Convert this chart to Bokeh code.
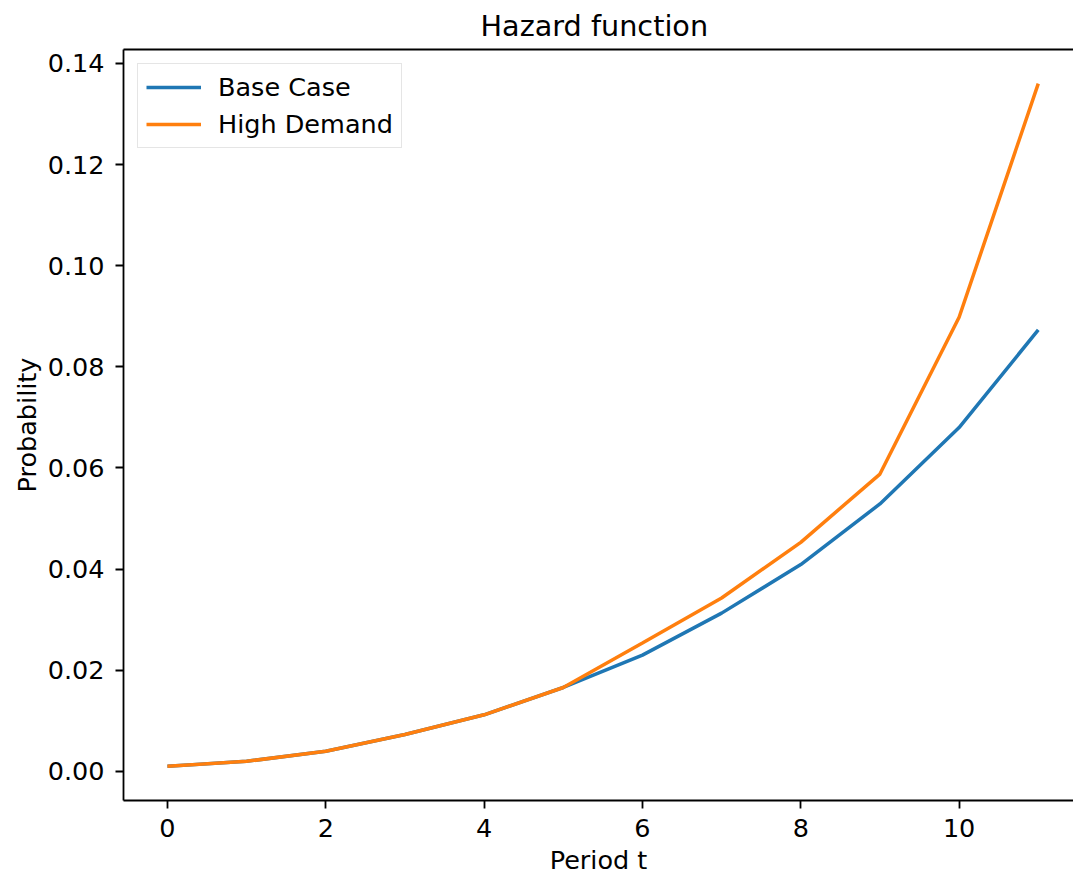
from bokeh.plotting import figure
from bokeh.models import Range1d, FixedTicker, PrintfTickFormatter, LinearAxis, Legend, LegendItem
from bokeh.embed import file_html
from bokeh.resources import INLINE

# Data
periods = [0, 1, 2, 3, 4, 5, 6, 7, 8, 9, 10, 11]
base_case = [0.001, 0.002, 0.004, 0.0073, 0.0112, 0.0166, 0.0230, 0.0313, 0.0409, 0.0529, 0.0680, 0.0873]
high_demand = [0.001, 0.002, 0.004, 0.0073, 0.0112, 0.0166, 0.0254, 0.0343, 0.0453, 0.0588, 0.0898, 0.1360]
x_ticks = [0, 2, 4, 6, 8, 10]
y_ticks = [0.00, 0.02, 0.04, 0.06, 0.08, 0.10, 0.12, 0.14]

FONT = "DejaVu Sans"
TXT = "25.5px"

p = figure(width=1073, height=879, output_backend="svg", toolbar_location=None,
           x_range=Range1d(-0.555, 11.445), y_range=Range1d(-0.00575, 0.14275),
           min_border_left=123, min_border_right=0, min_border_top=49, min_border_bottom=79)

p.title.text = "Hazard function"
p.title.align = "left"
p.title.offset = 357
p.title.text_font = FONT
p.title.text_font_size = "28.7px"
p.title.text_font_style = "normal"
p.title.text_color = "black"
p.title.standoff = 13

p.outline_line_color = None
p.xgrid.visible = False
p.ygrid.visible = False

l1 = p.line(periods, base_case, line_color="#1f77b4", line_width=3.5)
l2 = p.line(periods, high_demand, line_color="#ff7f0e", line_width=3.5)

for ax in (p.xaxis[0], p.yaxis[0]):
    ax.axis_line_color = "black"
    ax.axis_line_width = 1.8
    ax.major_tick_line_color = "black"
    ax.major_tick_line_width = 1.8
    ax.major_tick_out = 8
    ax.major_tick_in = 0
    ax.minor_tick_line_color = None
    ax.major_label_text_font = FONT
    ax.major_label_text_font_size = TXT
    ax.major_label_text_color = "black"
    ax.axis_label_text_font = FONT
    ax.axis_label_text_font_size = TXT
    ax.axis_label_text_font_style = "normal"
    ax.axis_label_text_color = "black"

p.xaxis[0].ticker = FixedTicker(ticks=x_ticks)
p.xaxis[0].formatter = PrintfTickFormatter(format="%d")
p.xaxis[0].axis_label = "Period t"
p.xaxis[0].major_label_standoff = 10
p.xaxis[0].axis_label_standoff = 5

p.yaxis[0].ticker = FixedTicker(ticks=y_ticks)
p.yaxis[0].formatter = PrintfTickFormatter(format="%.2f")
p.yaxis[0].axis_label = "Probability"
p.yaxis[0].major_label_standoff = 11
p.yaxis[0].axis_label_standoff = 3

top_axis = LinearAxis(ticker=FixedTicker(ticks=[]), axis_line_color="black", axis_line_width=1.8,
                      major_tick_line_color=None, minor_tick_line_color=None,
                      major_tick_out=0, major_tick_in=0,
                      major_label_text_font_size="0px", major_label_standoff=0)
p.add_layout(top_axis, "above")

legend = Legend(items=[LegendItem(label="Base Case", renderers=[l1]),
                       LegendItem(label="High Demand", renderers=[l2])],
                location="top_left", margin=14, padding=8, spacing=7,
                glyph_width=55, glyph_height=28, label_standoff=17,
                label_text_font=FONT, label_text_font_size=TXT, label_text_color="black",
                border_line_color="#cccccc", border_line_width=1.8,
                background_fill_color="white", background_fill_alpha=0.8)
p.add_layout(legend, "center")

open("out.html", "w").write(file_html(p, INLINE))
